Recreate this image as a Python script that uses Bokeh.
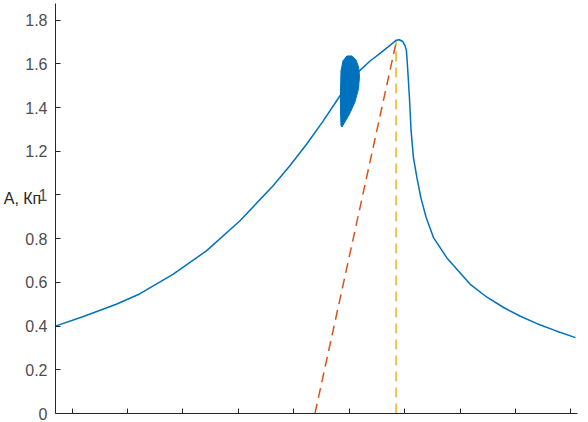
from bokeh.plotting import figure
from bokeh.models import Range1d, FixedTicker, CustomJSTickFormatter
from bokeh.embed import file_html
from bokeh.resources import INLINE

# main response curve (x in tick units, A)
curve_x = [-0.289, 0.192, 0.796, 1.217, 1.819, 2.423, 3.025, 3.627, 3.929, 4.231,
           4.532, 4.834, 5.195, 5.376, 5.557, 5.797, 5.846, 5.906, 5.967, 6.009,
           6.033, 6.050, 6.087, 6.117, 6.159, 6.221, 6.293, 6.389, 6.521, 6.763,
           7.184, 7.486, 7.787, 8.089, 8.391, 8.722, 9.083]
curve_a = [0.401, 0.443, 0.500, 0.547, 0.637, 0.744, 0.881, 1.042, 1.134, 1.232,
           1.339, 1.454, 1.570, 1.613, 1.648, 1.697, 1.708, 1.710, 1.702, 1.682,
           1.659, 1.599, 1.446, 1.293, 1.172, 1.080, 0.988, 0.897, 0.805, 0.712,
           0.591, 0.532, 0.485, 0.445, 0.411, 0.379, 0.347]

# filled blob near the curve
blob_x = [4.852, 4.843, 4.843, 4.852, 4.888, 4.960, 5.051, 5.123, 5.168, 5.186,
          5.168, 5.105, 5.014, 4.924, 4.870]
blob_a = [1.316, 1.385, 1.476, 1.568, 1.614, 1.636, 1.636, 1.618, 1.586, 1.545,
          1.486, 1.426, 1.375, 1.334, 1.311]

# dashed lines
slant_x = [4.382, 5.840]
slant_a = [0.0, 1.690]
vert_x = [5.846, 5.846]
vert_a = [0.0, 1.708]

x_ticks = [0, 1, 2, 3, 4, 5, 6, 7, 8, 9]
y_ticks = [0, 0.2, 0.4, 0.6, 0.8, 1.0, 1.2, 1.4, 1.6, 1.8]
y_label = "A, Кп"

p = figure(width=588, height=422, output_backend="svg", toolbar_location=None,
           x_range=Range1d(-0.3, 9.12), y_range=Range1d(0, 1.876),
           min_border_left=0, min_border_right=11, min_border_top=3,
           min_border_bottom=9)
p.outline_line_color = None
p.grid.grid_line_color = None
p.background_fill_color = "white"
p.border_fill_color = "white"

FONT = "Liberation Sans"
for ax in (p.xaxis[0], p.yaxis[0]):
    ax.axis_line_color = "#262626"
    ax.major_tick_line_color = "#262626"
    ax.major_tick_in = 5
    ax.major_tick_out = 0
    ax.minor_tick_line_color = None
    ax.major_label_text_font = FONT
    ax.major_label_text_font_size = "16px"
    ax.major_label_text_color = "#4d4d4d"

p.xaxis.ticker = FixedTicker(ticks=x_ticks)
p.xaxis.formatter = CustomJSTickFormatter(code="return '';")
p.xaxis.major_label_standoff = 0
p.yaxis.ticker = FixedTicker(ticks=y_ticks)
p.yaxis.formatter = CustomJSTickFormatter(code="return tick == 0 ? '0' : (tick == 1 ? '1' : tick.toFixed(1));")
p.yaxis.major_label_standoff = 8

p.yaxis.axis_label = y_label + "\n\u00a0"
p.yaxis.axis_label_orientation = "horizontal"
p.yaxis.axis_label_text_font = FONT
p.yaxis.axis_label_text_font_size = "16px"
p.yaxis.axis_label_text_font_style = "normal"
p.yaxis.axis_label_text_color = "#262626"
p.yaxis.axis_label_standoff = -19

p.line(slant_x, slant_a, line_color="#D95319", line_width=1.5, line_dash="10 6")
p.line(vert_x, vert_a, line_color="#EDB120", line_width=1.5, line_dash="10 6")
p.line(curve_x, curve_a, line_color="#0072BD", line_width=1.5)
p.patch(blob_x, blob_a, fill_color="#0072BD", line_color="#0072BD", line_width=1)

open("out.html", "w").write(file_html(p, INLINE))
